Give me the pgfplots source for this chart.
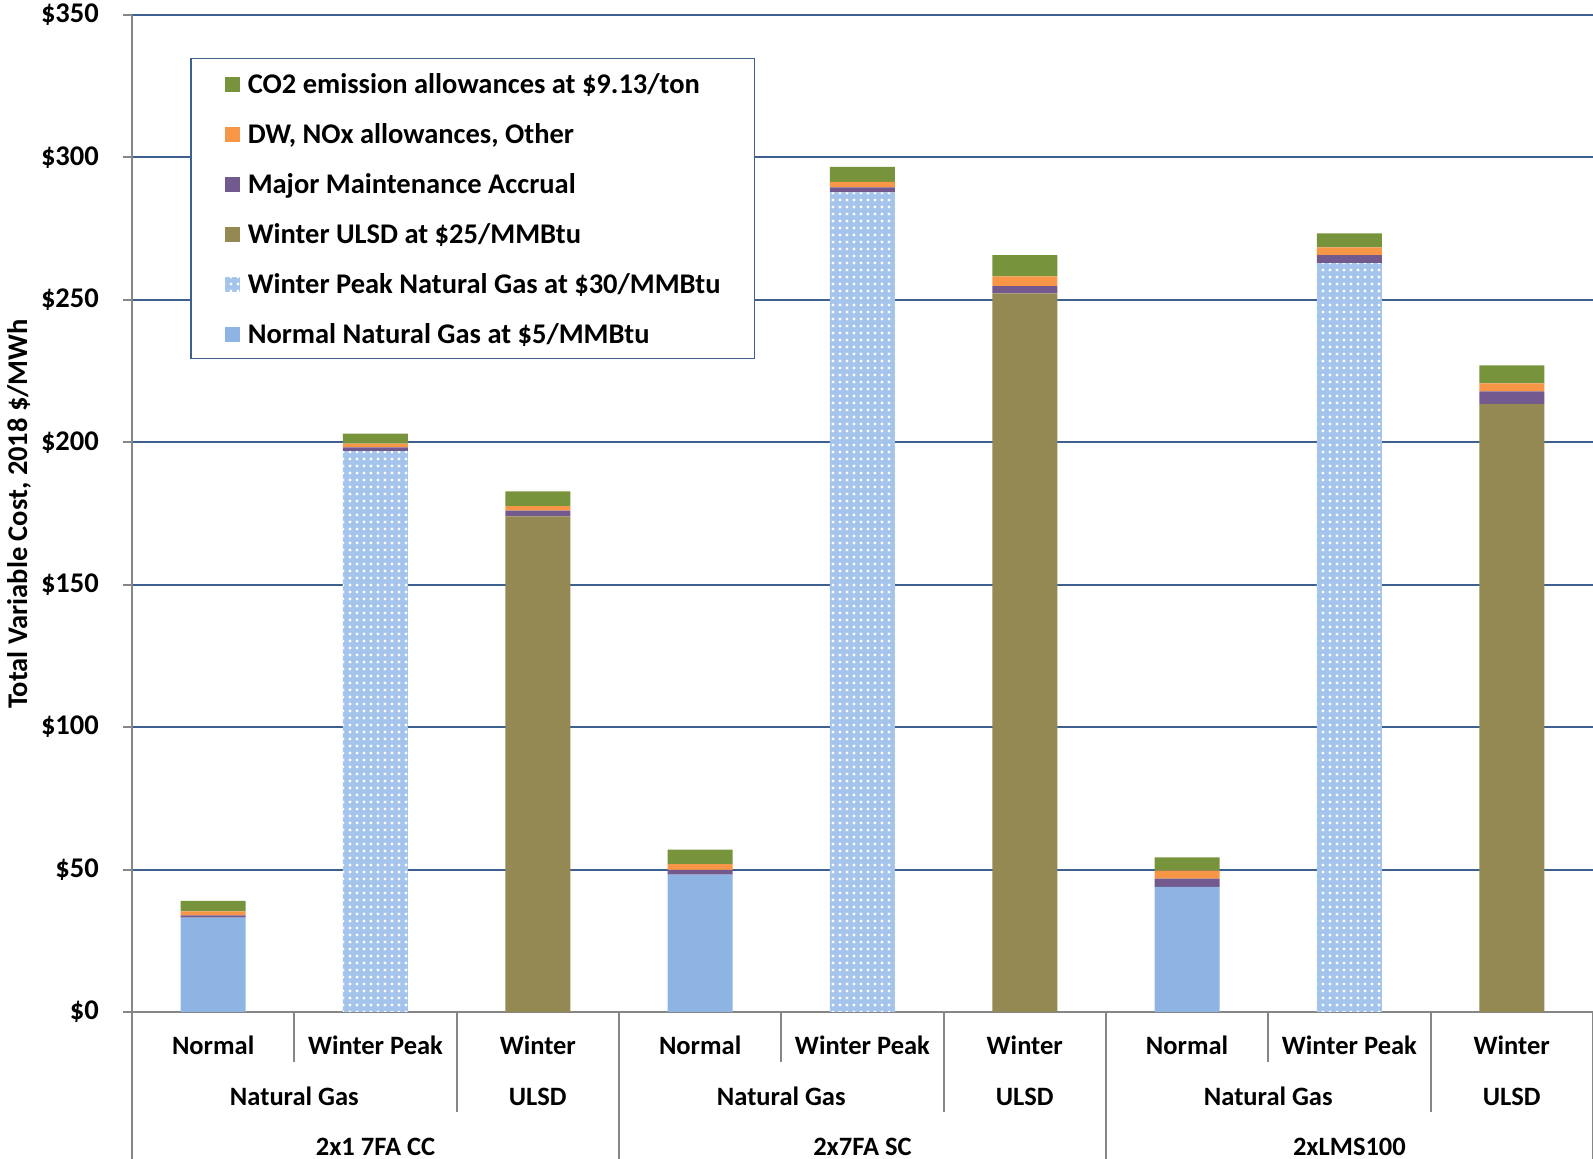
\documentclass[border=0pt]{standalone}
\usepackage{fontspec}
\setmainfont{Carlito}
\usepackage{pgfplots}
\pgfplotsset{compat=1.18}
\usetikzlibrary{patterns,patterns.meta}
\definecolor{ngblue}{RGB}{141,180,226}
\definecolor{pkblue}{RGB}{165,196,236}
\definecolor{ulsd}{RGB}{148,137,82}
\definecolor{maint}{RGB}{114,89,142}
\definecolor{dwor}{RGB}{247,150,70}
\definecolor{cogreen}{RGB}{119,147,60}
\definecolor{gridblue}{RGB}{62,96,143}
\definecolor{axisgray}{RGB}{134,134,134}
\newcommand\cf{\fontsize{26.5pt}{31pt}\selectfont\bfseries}
\newcommand\lf{\fontsize{28.5pt}{33pt}\selectfont\bfseries}
\begin{document}
\begin{tikzpicture}
\useasboundingbox (0,0) rectangle (1593pt,1159pt);
\begin{axis}[
  at={(132pt,147pt)}, anchor=south west,
  scale only axis, width=1461pt, height=997pt,
  ybar stacked, bar width=65pt,
  xmin=-0.5, xmax=8.5, ymin=0, ymax=350,
  xtick={0,...,8},
  xticklabels={Normal,Winter Peak,Winter,Normal,Winter Peak,Winter,Normal,Winter Peak,Winter},
  xtick style={draw=none},
  ytick={0,50,...,350},
  yticklabels={\$0,\$50,\$100,\$150,\$200,\$250,\$300,\$350},
  ymajorgrids, grid style={gridblue, line width=2pt},
  axis lines*=left, axis line style={axisgray, line width=2pt},
  ytick style={axisgray, line width=2pt}, tick align=outside, major tick length=9pt,
  yticklabel style={font=\lf, anchor=east, inner sep=0pt, xshift=-24pt},
  xticklabel style={font=\cf, anchor=base, inner sep=0pt, yshift=-34pt},
  clip=false,
  legend style={at={(0.0397,0.9569)}, anchor=north west, draw=gridblue, line width=1.5pt,
    inner xsep=34pt, inner ysep=9pt, row sep=18pt, font=\lf,
    nodes={inner sep=0pt, text height=26pt, text depth=6pt},
    /tikz/every odd column/.append style={column sep=8pt}},
  legend cell align=left,
  reverse legend,
  legend image code/.code={\fill[#1] (0pt,-8pt) rectangle (15pt,7pt);},
]
\addplot[fill=ngblue, draw=none] coordinates {(0,33.1)(1,0)(2,0)(3,48.2)(4,0)(5,0)(6,43.9)(7,0)(8,0)};
\addlegendentry{Normal Natural Gas at \$5/MMBtu}
\addplot[fill=pkblue, draw=none, postaction={pattern={Dots[distance=7pt,radius=1.7pt]}, pattern color=white}] coordinates {(0,0)(1,196.9)(2,0)(3,0)(4,287.7)(5,0)(6,0)(7,262.9)(8,0)};
\addlegendentry{Winter Peak Natural Gas at \$30/MMBtu}
\addplot[fill=ulsd, draw=none] coordinates {(0,0)(1,0)(2,174.0)(3,0)(4,0)(5,252.3)(6,0)(7,0)(8,213.5)};
\addlegendentry{Winter ULSD at \$25/MMBtu}
\addplot[fill=maint, draw=none] coordinates {(0,0.8)(1,1.3)(2,2.0)(3,1.7)(4,1.8)(5,2.5)(6,2.9)(7,2.8)(8,4.4)};
\addlegendentry{Major Maintenance Accrual}
\addplot[fill=dwor, draw=none] coordinates {(0,1.4)(1,1.3)(2,1.6)(3,2.0)(4,1.9)(5,3.4)(6,2.8)(7,2.7)(8,2.8)};
\addlegendentry{DW, NOx allowances, Other}
\addplot[fill=cogreen, draw=none] coordinates {(0,3.7)(1,3.5)(2,5.2)(3,5.1)(4,5.3)(5,7.5)(6,4.7)(7,4.9)(8,6.3)};
\addlegendentry{CO2 emission allowances at \$9.13/ton}
% category separators
\pgfplotsinvokeforeach{-0.5,2.5,5.5,8.5}{\draw[axisgray, line width=2pt] (axis cs:#1,0) -- ([yshift=-147pt]axis cs:#1,0);}
\pgfplotsinvokeforeach{0.5,3.5,6.5}{\draw[axisgray, line width=2pt] (axis cs:#1,0) -- ([yshift=-50pt]axis cs:#1,0);}
\pgfplotsinvokeforeach{1.5,4.5,7.5}{\draw[axisgray, line width=2pt] (axis cs:#1,0) -- ([yshift=-100pt]axis cs:#1,0);}
\pgfplotsinvokeforeach{0.5,3.5,6.5}{\node[font=\cf, anchor=base] at ([yshift=-93pt]axis cs:#1,0) {Natural Gas};}
\pgfplotsinvokeforeach{2,5,8}{\node[font=\cf, anchor=base] at ([yshift=-93pt]axis cs:#1,0) {ULSD};}
\node[font=\cf, anchor=base] at ([yshift=-143pt]axis cs:1,0) {2x1 7FA CC};
\node[font=\cf, anchor=base] at ([yshift=-143pt]axis cs:4,0) {2x7FA SC};
\node[font=\cf, anchor=base] at ([yshift=-143pt]axis cs:7,0) {2xLMS100};
\end{axis}
\node[font=\lf, rotate=90] at (19pt,645pt) {Total Variable Cost, 2018 \$/MWh};
\end{tikzpicture}
\end{document}
